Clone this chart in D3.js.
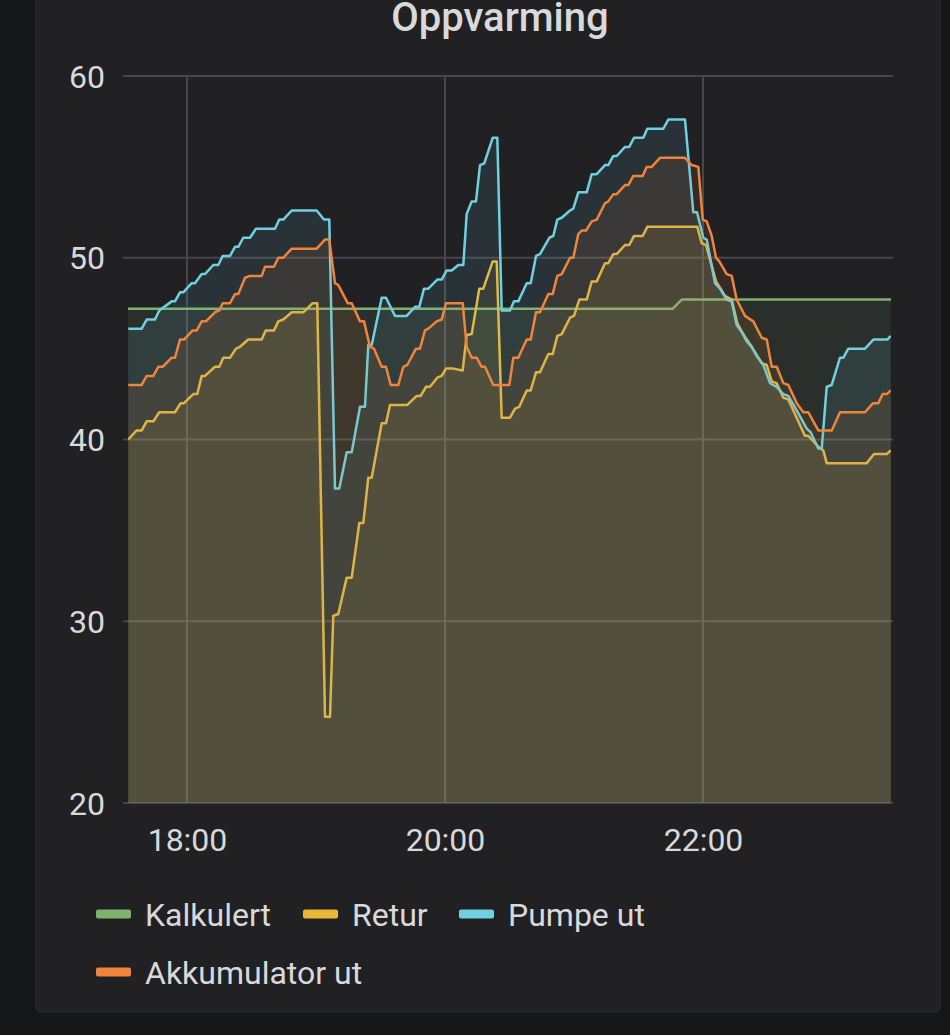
<!DOCTYPE html>
<html>
<head>
<meta charset="utf-8">
<script src="https://cdn.jsdelivr.net/npm/d3@7"></script>
<style>
html,body{margin:0;padding:0;background:#161719;}
svg{display:block;font-family:Roboto,"Noto Sans",sans-serif;}
</style>
</head>
<body>
<script>
// ---- data ----
const seriesNames = ["Kalkulert", "Retur", "Pumpe ut", "Akkumulator ut"];
const seriesColors = ["#7EB26D", "#EAB839", "#6ED0E0", "#EF843C"];
const yTickValues = [20, 30, 40, 50, 60];
const xTickLabels = ["18:00", "20:00", "22:00"];
const timeDomain = ["17:32:34", "23:27:26"];

const kalkulert = [["17:32:34",47.2],["21:45:55",47.2],["21:50:05",47.7],["23:27:26",47.7]];

const retur = [["17:32:42",40.0],["17:36:36",40.5],["17:38:56",40.5],["17:41:15",41.0],["17:44:20",41.0],["17:47:07",41.5],["17:54:25",41.5],["17:57:04",42.0],["17:58:36",42.0],["18:02:56",42.5],["18:04:47",42.5],["18:06:50",43.5],["18:08:22",43.5],["18:13:01",44.0],["18:15:01",44.0],["18:16:53",44.5],["18:20:00",44.5],["18:22:47",45.0],["18:24:39",45.1],["18:28:31",45.5],["18:34:45",45.5],["18:36:36",46.0],["18:40:28",46.0],["18:42:28",46.5],["18:44:47",46.6],["18:48:42",47.0],["18:54:05",47.0],["18:58:28",47.5],["19:00:36",47.5],["19:04:11",24.75],["19:06:31",24.75],["19:08:03",30.3],["19:10:22",30.4],["19:14:17",32.4],["19:16:37",32.4],["19:20:08",35.4],["19:22:00",35.4],["19:24:20",37.9],["19:25:55",37.9],["19:30:34",40.9],["19:32:34",40.9],["19:34:25",41.9],["19:42:28",41.9],["19:46:50",42.4],["19:48:42",42.4],["19:51:10",42.9],["19:53:01",42.9],["19:56:25",43.4],["19:58:28",43.5],["20:00:28",43.9],["20:03:52",43.9],["20:08:14",43.8],["20:10:05",45.75],["20:12:25",45.8],["20:15:57",48.3],["20:17:49",48.3],["20:22:11",49.8],["20:24:03",49.8],["20:26:22",41.2],["20:30:14",41.2],["20:32:34",41.7],["20:34:33",41.8],["20:38:00",42.7],["20:39:52",42.7],["20:42:20",43.7],["20:44:11",43.7],["20:48:03",44.7],["20:50:05",44.7],["20:52:14",45.7],["20:54:17",45.8],["20:58:08",46.7],["21:00:00",46.8],["21:02:28",47.7],["21:05:55",47.7],["21:08:14",48.7],["21:10:34",48.7],["21:14:25",49.7],["21:15:57",49.7],["21:18:17",50.2],["21:19:52",50.2],["21:23:43",50.7],["21:25:43",50.7],["21:27:55",51.2],["21:31:57",51.2],["21:34:05",51.7],["21:57:21",51.7],["21:59:24",50.8],["22:01:24",50.7],["22:06:03",48.7],["22:10:14",47.9],["22:13:21",47.7],["22:15:57",46.4],["22:20:20",45.4],["22:22:39",45.1],["22:27:18",44.2],["22:29:38",44.1],["22:31:57",43.2],["22:34:17",43.1],["22:37:21",42.3],["22:39:40",42.2],["22:47:26",40.2],["22:48:59",40.2],["22:53:38",39.6],["22:55:57",39.4],["22:57:32",38.7],["23:16:08",38.7],["23:19:32",39.2],["23:25:26",39.2],["23:27:18",39.4]];

const pumpeUt = [["17:32:42",46.1],["17:38:56",46.1],["17:41:15",46.6],["17:45:07",46.6],["17:47:07",47.1],["17:52:53",47.6],["17:54:25",47.6],["17:56:45",48.1],["17:58:17",48.1],["18:02:11",48.6],["18:03:43",48.6],["18:06:50",49.1],["18:08:22",49.1],["18:12:14",49.6],["18:14:33",49.6],["18:16:36",50.1],["18:20:00",50.1],["18:22:20",50.6],["18:23:52",50.6],["18:26:11",51.1],["18:29:18",51.1],["18:32:05",51.6],["18:40:56",51.6],["18:42:56",52.1],["18:44:47",52.1],["18:48:42",52.6],["19:00:20",52.6],["19:03:43",52.1],["19:06:11",52.1],["19:08:50",37.3],["19:10:50",37.3],["19:14:17",39.3],["19:16:37",39.3],["19:20:28",41.8],["19:22:47",41.8],["19:24:20",45.2],["19:25:55",45.2],["19:30:34",47.8],["19:32:34",47.8],["19:36:45",46.8],["19:42:11",46.8],["19:46:03",47.3],["19:48:03",47.3],["19:50:14",48.3],["19:52:14",48.3],["19:56:25",48.8],["19:58:28",48.8],["20:00:47",49.3],["20:03:07",49.3],["20:06:11",49.6],["20:08:31",49.6],["20:10:05",52.4],["20:12:25",53.1],["20:14:25",53.1],["20:16:17",55.1],["20:18:17",55.2],["20:22:11",56.6],["20:24:20",56.6],["20:26:22",47.1],["20:30:14",47.1],["20:32:05",47.6],["20:34:05",47.6],["20:38:00",48.6],["20:39:52",48.6],["20:42:20",50.1],["20:44:11",50.2],["20:48:31",51.1],["20:50:22",51.2],["20:52:14",52.1],["20:54:17",52.2],["20:58:08",52.6],["20:59:40",52.7],["21:02:00",53.6],["21:05:55",53.6],["21:08:14",54.6],["21:10:34",54.6],["21:14:25",55.1],["21:15:57",55.1],["21:18:17",55.6],["21:19:52",55.6],["21:23:43",56.1],["21:25:43",56.1],["21:27:55",56.6],["21:32:14",56.6],["21:34:05",57.1],["21:41:32",57.1],["21:43:52",57.6],["21:51:38",57.6],["21:55:29",52.5],["21:57:13",52.5],["22:00:08",51.1],["22:01:43",51.0],["22:05:35",48.6],["22:07:55",48.3],["22:11:01",47.7],["22:13:21",47.6],["22:15:40",46.3],["22:18:44",45.8],["22:22:39",45.1],["22:24:59",44.6],["22:28:03",44.1],["22:31:10",43.1],["22:34:17",42.9],["22:37:21",42.5],["22:39:40",42.4],["22:43:35",41.6],["22:48:14",40.6],["22:50:05",40.4],["22:53:38",39.5],["22:55:13",39.5],["22:57:32",42.9],["22:59:52",43.0],["23:03:43",44.5],["23:05:16",44.5],["23:07:35",45.0],["23:15:21",45.0],["23:19:13",45.5],["23:25:43",45.5],["23:27:18",45.7]];

const akkumulatorUt = [["17:32:42",43.0],["17:38:56",43.0],["17:41:15",43.5],["17:44:20",43.5],["17:46:39",44.0],["17:48:42",44.0],["17:52:53",44.5],["17:54:25",44.5],["17:56:45",45.5],["17:58:36",45.5],["18:02:39",46.0],["18:04:31",46.0],["18:06:50",46.5],["18:08:50",46.5],["18:13:01",47.0],["18:15:01",47.1],["18:16:36",47.5],["18:20:00",47.5],["18:22:20",48.0],["18:23:52",48.0],["18:26:59",48.9],["18:29:18",49.0],["18:34:45",49.0],["18:36:17",49.5],["18:40:28",49.5],["18:42:28",50.0],["18:44:47",50.0],["18:48:42",50.5],["19:00:20",50.5],["19:04:11",51.0],["19:06:11",51.0],["19:08:50",48.6],["19:10:22",48.5],["19:14:45",47.5],["19:16:37",47.5],["19:20:28",46.5],["19:22:20",46.5],["19:25:07",45.1],["19:26:59",45.0],["19:30:34",44.0],["19:32:34",44.0],["19:34:45",43.0],["19:38:17",43.0],["19:40:36",44.0],["19:42:28",44.1],["19:46:31",45.0],["19:48:22",45.0],["19:50:42",46.0],["19:52:14",46.1],["19:56:08",46.5],["19:58:28",46.6],["20:00:28",47.5],["20:08:14",47.5],["20:10:05",45.1],["20:12:25",44.5],["20:14:45",44.5],["20:17:04",44.0],["20:18:37",44.0],["20:22:28",43.0],["20:29:55",43.0],["20:31:46",44.5],["20:34:05",44.5],["20:38:00",45.5],["20:39:52",45.5],["20:42:20",47.0],["20:44:11",47.0],["20:48:03",48.0],["20:50:05",48.0],["20:52:14",49.0],["20:54:17",49.1],["20:58:08",50.0],["20:59:40",50.0],["21:02:00",51.3],["21:03:35",51.5],["21:05:35",51.5],["21:08:14",52.0],["21:10:34",52.1],["21:14:25",53.0],["21:15:57",53.1],["21:18:17",53.5],["21:19:52",53.5],["21:23:43",54.0],["21:25:16",54.0],["21:27:35",54.5],["21:31:57",54.5],["21:33:49",55.0],["21:36:08",55.0],["21:40:00",55.5],["21:51:38",55.5],["21:54:45",55.1],["21:57:49",55.0],["21:59:52",52.1],["22:01:43",52.0],["22:04:03",51.2],["22:06:03",50.0],["22:07:35",49.8],["22:11:01",49.1],["22:13:21",49.0],["22:15:40",47.7],["22:19:32",46.8],["22:23:24",46.5],["22:27:18",45.6],["22:29:38",45.5],["22:31:57",44.0],["22:34:17",44.0],["22:37:21",43.1],["22:39:40",43.0],["22:43:35",42.0],["22:46:39",41.5],["22:48:59",41.5],["22:53:38",40.5],["22:59:52",40.5],["23:03:43",41.5],["23:15:21",41.5],["23:19:04",42.0],["23:21:32",42.0],["23:23:35",42.5],["23:25:26",42.5],["23:27:18",42.7]];

const seriesData = [kalkulert, retur, pumpeUt, akkumulatorUt];

// ---- chart ----
const W = 950, H = 1035;
const plot = {left: 128, right: 891, top: 76, bottom: 803};
const parseT = d3.timeParse("%H:%M:%S");
const parseHM = d3.timeParse("%H:%M");

const svg = d3.select("body").append("svg").attr("width", W).attr("height", H);
svg.append("rect").attr("width", W).attr("height", H).attr("fill", "#161719");
svg.append("rect").attr("x", 36).attr("y", -20).attr("width", 904).attr("height", 1032)
  .attr("rx", 4).attr("fill", "#212124").attr("stroke", "#2a2a2e").attr("stroke-width", 1);

// title
svg.append("text").attr("x", 500).attr("y", 31).attr("text-anchor", "middle")
  .attr("font-size", 40).attr("font-weight", 500).attr("fill", "#d8d9da").text("Oppvarming");

const x = d3.scaleTime().domain(timeDomain.map(parseT)).range([plot.left, plot.right]);
const y = d3.scaleLinear().domain([20, 60]).range([plot.bottom, plot.top]);
const xTicks = xTickLabels.map(parseHM);

// grid
const grid = svg.append("g");
grid.selectAll("line.h").data(yTickValues).join("line")
  .attr("x1", plot.left - 5).attr("x2", plot.right + 2)
  .attr("y1", d => y(d)).attr("y2", d => y(d))
  .attr("stroke", "#47474b").attr("stroke-width", 2);
grid.selectAll("line.v").data(xTicks).join("line")
  .attr("x1", d => x(d)).attr("x2", d => x(d))
  .attr("y1", plot.top).attr("y2", plot.bottom)
  .attr("stroke", "#47474b").attr("stroke-width", 2);

// y axis labels
const yAxis = d3.axisLeft(y).tickValues(yTickValues).tickSize(0).tickPadding(0).tickFormat(d3.format("d"));
const yg = svg.append("g").attr("transform", `translate(${plot.left - 23},0)`).call(yAxis);
yg.select(".domain").remove();
yg.selectAll("text").attr("font-size", 32).attr("fill", "#d8d9da").attr("font-family", "Roboto").attr("dy", "0.35em");

// x axis labels
const xAxis = d3.axisBottom(x).tickValues(xTicks).tickSize(0).tickPadding(0).tickFormat(d3.timeFormat("%H:%M"));
const xg = svg.append("g").attr("transform", `translate(0,${plot.bottom + 48})`).call(xAxis);
xg.select(".domain").remove();
xg.selectAll("text").attr("font-size", 32).attr("fill", "#d8d9da").attr("font-family", "Roboto").attr("dy", 0);

// clip
svg.append("clipPath").attr("id", "clip").append("rect")
  .attr("x", plot.left).attr("y", plot.top - 4).attr("width", plot.right - plot.left).attr("height", plot.bottom - plot.top + 4);

const area = d3.area().x(d => x(parseT(d[0]))).y0(y(20)).y1(d => y(d[1]));
const line = d3.line().x(d => x(parseT(d[0]))).y(d => y(d[1]));

const pg = svg.append("g").attr("clip-path", "url(#clip)");
seriesData.forEach((s, i) => {
  pg.append("path").datum(s).attr("d", area).attr("fill", seriesColors[i]).attr("fill-opacity", 0.1);
  pg.append("path").datum(s).attr("d", line).attr("fill", "none").attr("stroke", seriesColors[i])
    .attr("stroke-width", 2.5).attr("stroke-linejoin", "round");
});

// legend
const legendPos = [[96, 914], [303, 914], [459, 914], [96, 972]];
const lg = svg.append("g");
seriesNames.forEach((n, i) => {
  const [lx, ly] = legendPos[i];
  lg.append("rect").attr("x", lx).attr("y", ly - 4.5).attr("width", 35).attr("height", 9).attr("rx", 2)
    .attr("fill", seriesColors[i]);
  lg.append("text").attr("x", lx + 49).attr("y", ly + 12).attr("font-size", 32).attr("fill", "#d8d9da")
    .text(n);
});
</script>
</body>
</html>
